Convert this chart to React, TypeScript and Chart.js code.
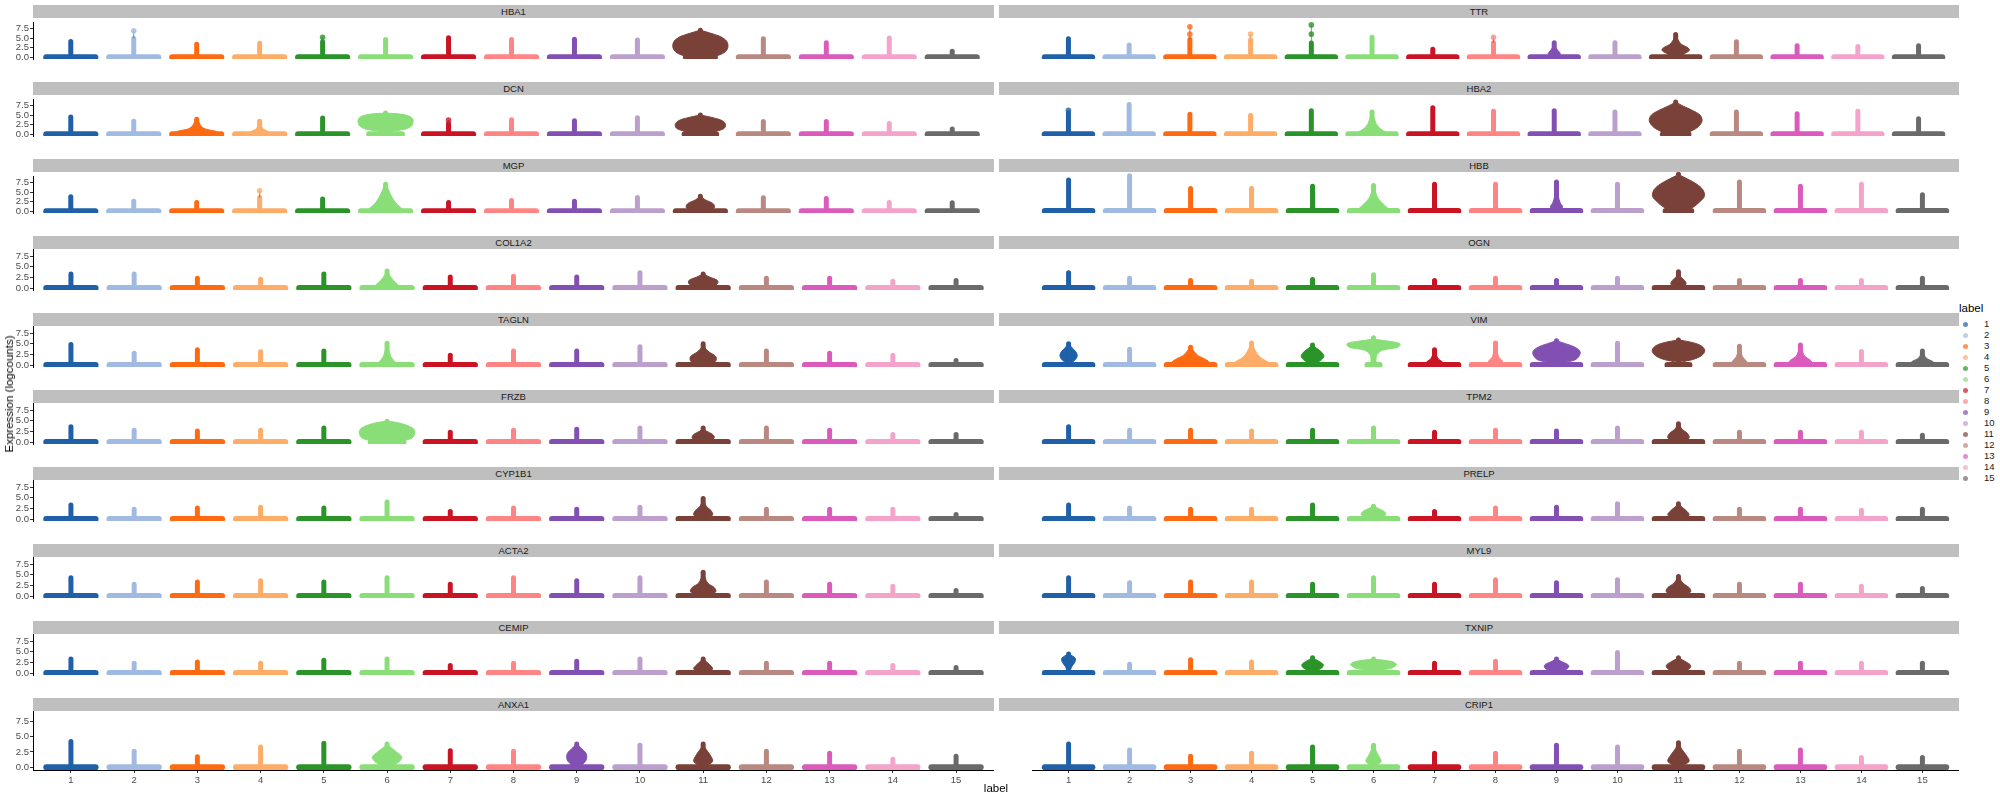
import React, { useEffect, useRef } from 'react';
import { Chart, registerables } from 'chart.js';

Chart.register(...registerables);

// ---------- data ----------
const clusters = ['1', '2', '3', '4', '5', '6', '7', '8', '9', '10', '11', '12', '13', '14', '15'];
const clusterPos = [1, 2, 3, 4, 5, 6, 7, 8, 9, 10, 11, 12, 13, 14, 15];
const palette = [
  '#1F60A8', '#A0BAE2', '#FD6A12', '#FDAD68', '#2A9429', '#8ADE78', '#CA1424', '#FF8585',
  '#8250B2', '#BBA0CD', '#7A4139', '#B98880', '#DA5BBB', '#F4A4CB', '#6A6A6A',
];
const yTicks = [0, 2.5, 5, 7.5];
const yMin = -0.44;
const yMax = 9.15;
const zeroWidth = 0.78;

// top of the dense part of each violin, clusters 1..15
const HBA1 = [4.1, 4.9, 3.4, 3.65, 4.0, 4.6, 5.1, 4.6, 4.7, 4.5, 7.0, 4.8, 3.8, 5.0, 1.6];
const TTR = [4.8, 3.2, 4.6, 4.0, 3.7, 5.2, 2.1, 3.8, 3.8, 3.8, 5.9, 4.0, 3.0, 2.8, 3.0];
const DCN = [4.5, 3.4, 3.9, 3.4, 4.25, 5.5, 2.8, 3.8, 3.5, 4.3, 5.0, 3.3, 3.3, 2.8, 1.4];
const HBA2 = [5.6, 7.7, 5.2, 4.9, 6.1, 5.8, 6.9, 6.0, 6.1, 5.8, 8.4, 5.8, 5.3, 6.0, 4.0];
const MGP = [3.8, 2.6, 2.3, 3.6, 3.2, 7.0, 2.3, 2.8, 2.6, 3.6, 3.9, 3.5, 3.3, 2.3, 2.2];
const HBB = [7.3, 8.3, 5.3, 5.3, 5.8, 6.0, 6.3, 6.3, 6.8, 6.3, 8.6, 6.8, 5.8, 6.3, 3.8];
const COL1A2 = [3.3, 3.3, 2.3, 2.1, 3.3, 4.0, 2.6, 2.8, 2.6, 3.6, 3.3, 2.3, 2.3, 1.6, 1.8];
const OGN = [3.6, 2.3, 1.8, 1.6, 2.0, 3.1, 1.8, 2.3, 1.8, 2.3, 3.8, 1.8, 1.8, 1.8, 2.3];
const TAGLN = [4.8, 2.8, 3.6, 3.1, 3.3, 5.1, 2.3, 3.3, 3.3, 4.3, 5.0, 3.3, 2.8, 2.3, 1.1];
const VIM = [5.0, 3.7, 4.2, 5.2, 4.7, 6.4, 3.6, 5.2, 5.7, 5.1, 5.9, 4.4, 4.7, 3.2, 3.3];
const FRZB = [3.6, 2.8, 2.6, 2.8, 3.3, 4.9, 2.3, 2.8, 3.0, 3.3, 3.3, 3.3, 2.8, 1.8, 1.8];
const TPM2 = [3.6, 2.8, 2.8, 2.6, 2.8, 3.3, 2.3, 2.8, 2.6, 3.3, 4.3, 2.3, 2.3, 2.3, 1.6];
const CYP1B1 = [3.3, 2.3, 2.6, 2.8, 2.6, 4.0, 1.8, 2.6, 2.3, 2.8, 4.8, 2.3, 2.3, 2.3, 1.1];
const PRELP = [3.3, 2.6, 2.3, 2.3, 3.3, 3.0, 1.8, 2.6, 2.8, 3.6, 3.6, 2.3, 2.3, 2.1, 2.3];
const ACTA2 = [4.3, 2.8, 3.3, 3.6, 3.3, 4.3, 2.8, 4.3, 3.6, 4.3, 5.6, 3.3, 2.8, 2.3, 1.3];
const MYL9 = [4.3, 3.1, 3.3, 3.3, 2.8, 4.3, 2.8, 3.8, 3.1, 3.8, 4.6, 2.8, 2.8, 2.3, 1.8];
const CEMIP = [3.3, 2.3, 2.6, 2.3, 3.0, 3.3, 1.8, 2.3, 2.8, 3.3, 3.3, 2.3, 2.3, 1.8, 1.3];
const TXNIP = [4.5, 2.1, 3.1, 2.6, 3.6, 3.3, 2.3, 2.8, 3.3, 4.8, 3.6, 2.3, 2.3, 2.3, 2.3];
const ANXA1 = [4.2, 2.6, 1.7, 3.3, 3.9, 3.8, 2.7, 2.6, 3.8, 3.6, 3.8, 2.6, 2.3, 1.3, 1.8];
const CRIP1 = [3.8, 2.8, 1.8, 2.3, 3.3, 3.6, 2.3, 2.3, 3.6, 3.3, 4.0, 2.6, 2.8, 1.6, 1.6];

// isolated high cells above the violins: [cluster, expression]
type Dot = [number, number];
const HBA1_dots: Dot[] = [[2, 6.9], [5, 5.2]];
const TTR_dots: Dot[] = [[3, 6.0], [3, 7.9], [4, 4.5], [4, 6.0], [5, 6.0], [5, 8.4], [8, 5.2]];
const DCN_dots: Dot[] = [[7, 3.7]];
const HBA2_dots: Dot[] = [[1, 6.2]];
const MGP_dots: Dot[] = [[4, 5.3]];

// violin bodies: [cluster, zero-bar width or null, [[expression, violin width], ...]]
type Body = [number, number | null, number[][]];
const HBA1_body: Body[] = [
  [11, 0.46, [[0.1, 0.3], [0.6, 0.6], [1.5, 0.8], [2.5, 0.87], [3.5, 0.87], [4.5, 0.8], [5.5, 0.6], [6.3, 0.3], [6.8, 0.1], [7.0, 0]]],
];
const TTR_body: Body[] = [
  [9, null, [[0.3, 0.15], [1, 0.2], [1.5, 0.15], [2.5, 0.06], [3.8, 0]]],
  [11, null, [[0.3, 0.15], [1, 0.3], [1.8, 0.45], [2.5, 0.4], [3.3, 0.2], [4.5, 0.08], [5.9, 0]]],
];
const DCN_body: Body[] = [
  [3, null, [[0, 0.75], [0.8, 0.6], [1.3, 0.3], [2, 0.15], [3, 0.08], [3.9, 0]]],
  [4, null, [[0, 0.35], [0.8, 0.25], [1.5, 0.1], [3.4, 0]]],
  [6, 0.52, [[0.5, 0.05], [0.9, 0.3], [1.4, 0.65], [2.2, 0.83], [3, 0.87], [4, 0.86], [4.8, 0.72], [5.3, 0.4], [5.5, 0]]],
  [11, 0.5, [[0.2, 0.2], [0.8, 0.5], [1.5, 0.75], [2.5, 0.8], [3.5, 0.7], [4.3, 0.4], [5, 0]]],
];
const HBA2_body: Body[] = [
  [6, null, [[0, 0.6], [0.6, 0.45], [1.3, 0.3], [2, 0.2], [3, 0.12], [4.5, 0.06], [5.8, 0]]],
  [11, 0.42, [[0.2, 0.3], [1, 0.55], [2, 0.75], [3.5, 0.87], [5, 0.8], [6.2, 0.55], [7.3, 0.25], [8, 0.08], [8.4, 0]]],
];
const MGP_body: Body[] = [
  [6, null, [[0, 0.55], [0.5, 0.55], [1.5, 0.4], [3, 0.25], [4.5, 0.15], [6, 0.07], [7, 0]]],
  [11, null, [[0.2, 0.3], [1, 0.45], [2, 0.4], [3, 0.15], [3.9, 0]]],
];
const HBB_body: Body[] = [
  [6, null, [[0, 0.6], [0.8, 0.45], [1.8, 0.3], [3, 0.15], [4.5, 0.06], [6, 0]]],
  [9, null, [[0.2, 0.15], [1, 0.2], [2, 0.12], [3.5, 0.06], [6.8, 0]]],
  [11, 0.42, [[0.2, 0.3], [1, 0.5], [2.2, 0.7], [3.5, 0.85], [5, 0.8], [6.3, 0.6], [7.5, 0.3], [8.2, 0.1], [8.6, 0]]],
];
const COL1A2_body: Body[] = [
  [6, null, [[0, 0.45], [0.8, 0.35], [1.8, 0.2], [3, 0.08], [4, 0]]],
  [11, null, [[0.2, 0.25], [1, 0.45], [1.8, 0.45], [2.6, 0.2], [3.3, 0]]],
];
const OGN_body: Body[] = [
  [11, null, [[0.2, 0.15], [1, 0.25], [1.8, 0.2], [2.8, 0.06], [3.8, 0]]],
];
const TAGLN_body: Body[] = [
  [6, null, [[0, 0.35], [0.8, 0.25], [2, 0.12], [5.1, 0]]],
  [11, null, [[0.2, 0.25], [1, 0.4], [2, 0.4], [3, 0.2], [4, 0.06], [5, 0]]],
];
const VIM_body: Body[] = [
  [1, null, [[0.4, 0.05], [1, 0.18], [2, 0.28], [3, 0.25], [4, 0.12], [5, 0]]],
  [3, null, [[0, 0.6], [0.8, 0.6], [1.5, 0.45], [2.2, 0.25], [3.2, 0.12], [4.2, 0]]],
  [4, null, [[0, 0.6], [0.7, 0.55], [1.5, 0.35], [2.5, 0.2], [4, 0.08], [5.2, 0]]],
  [5, null, [[0.4, 0.05], [1, 0.25], [2, 0.37], [3, 0.3], [4, 0.12], [4.7, 0]]],
  [6, 0.2, [[0.3, 0.1], [1, 0.08], [2.5, 0.12], [3.5, 0.3], [4.2, 0.8], [5, 0.87], [5.6, 0.5], [6, 0.1], [6.4, 0]]],
  [7, null, [[0, 0.3], [0.8, 0.25], [1.5, 0.12], [3.6, 0]]],
  [8, null, [[0, 0.25], [1, 0.22], [2, 0.1], [5.2, 0]]],
  [9, null, [[0.6, 0.2], [1.2, 0.6], [2.2, 0.75], [3.2, 0.77], [4.2, 0.6], [5, 0.3], [5.7, 0]]],
  [11, 0.36, [[0.8, 0.15], [1.5, 0.55], [2.5, 0.8], [3.5, 0.86], [4.5, 0.75], [5.3, 0.45], [5.9, 0]]],
  [12, null, [[0, 0.3], [1, 0.22], [2, 0.1], [4.4, 0]]],
  [13, null, [[0, 0.4], [1, 0.35], [2, 0.15], [3, 0.08], [4.7, 0]]],
  [15, null, [[0, 0.4], [0.8, 0.35], [1.5, 0.15], [2.5, 0.05], [3.3, 0]]],
];
const FRZB_body: Body[] = [
  [6, 0.52, [[0.2, 0.3], [0.8, 0.75], [1.8, 0.87], [3, 0.85], [4, 0.6], [4.6, 0.3], [4.9, 0]]],
  [11, null, [[0.2, 0.2], [1, 0.35], [1.8, 0.3], [2.6, 0.1], [3.3, 0]]],
];
const TPM2_body: Body[] = [
  [11, null, [[0.2, 0.2], [1, 0.35], [2, 0.3], [3, 0.12], [4.3, 0]]],
];
const CYP1B1_body: Body[] = [
  [11, null, [[0.2, 0.15], [1, 0.3], [2, 0.25], [3, 0.1], [4.8, 0]]],
];
const PRELP_body: Body[] = [
  [6, null, [[0.2, 0.2], [1, 0.4], [1.8, 0.35], [2.5, 0.15], [3, 0]]],
  [11, null, [[0.2, 0.2], [1, 0.35], [2, 0.25], [3, 0.08], [3.6, 0]]],
];
const ACTA2_body: Body[] = [
  [11, null, [[0.2, 0.2], [1, 0.4], [2, 0.35], [3, 0.15], [4.5, 0.05], [5.6, 0]]],
];
const MYL9_body: Body[] = [
  [11, null, [[0.2, 0.2], [1, 0.4], [2, 0.35], [3, 0.15], [4.6, 0]]],
];
const CEMIP_body: Body[] = [
  [11, null, [[0.2, 0.15], [1, 0.3], [2, 0.2], [3.3, 0]]],
];
const TXNIP_body: Body[] = [
  [1, null, [[0.5, 0.05], [1.5, 0.1], [2.5, 0.2], [3.5, 0.22], [4.5, 0]]],
  [5, null, [[0.5, 0.1], [1.2, 0.3], [2, 0.35], [2.8, 0.2], [3.6, 0]]],
  [6, null, [[0.6, 0.1], [1.2, 0.6], [2, 0.75], [2.7, 0.6], [3.3, 0]]],
  [9, null, [[0.3, 0.1], [1, 0.35], [1.8, 0.4], [2.6, 0.2], [3.3, 0]]],
  [11, null, [[0.3, 0.15], [1, 0.35], [1.8, 0.4], [2.6, 0.25], [3.6, 0]]],
];
const ANXA1_body: Body[] = [
  [6, null, [[0.3, 0.2], [1, 0.4], [1.7, 0.46], [2.5, 0.3], [3.3, 0.1], [3.8, 0]]],
  [9, null, [[0.3, 0.15], [1.2, 0.3], [2.2, 0.3], [3.2, 0.12], [3.8, 0]]],
  [11, null, [[0.3, 0.15], [1, 0.3], [2, 0.22], [3, 0.08], [3.8, 0]]],
];
const CRIP1_body: Body[] = [
  [6, null, [[0.3, 0.1], [1, 0.25], [2, 0.15], [3.6, 0]]],
  [11, null, [[0.3, 0.15], [1, 0.35], [2, 0.25], [3, 0.1], [4, 0]]],
];

const genes = ['HBA1', 'TTR', 'DCN', 'HBA2', 'MGP', 'HBB', 'COL1A2', 'OGN', 'TAGLN', 'VIM',
  'FRZB', 'TPM2', 'CYP1B1', 'PRELP', 'ACTA2', 'MYL9', 'CEMIP', 'TXNIP', 'ANXA1', 'CRIP1'];
const maxima = [HBA1, TTR, DCN, HBA2, MGP, HBB, COL1A2, OGN, TAGLN, VIM,
  FRZB, TPM2, CYP1B1, PRELP, ACTA2, MYL9, CEMIP, TXNIP, ANXA1, CRIP1];
const bodies = [HBA1_body, TTR_body, DCN_body, HBA2_body, MGP_body, HBB_body, COL1A2_body, OGN_body,
  TAGLN_body, VIM_body, FRZB_body, TPM2_body, CYP1B1_body, PRELP_body, ACTA2_body, MYL9_body,
  CEMIP_body, TXNIP_body, ANXA1_body, CRIP1_body];
const dotsByGene: Dot[][] = [HBA1_dots, TTR_dots, DCN_dots, HBA2_dots, MGP_dots, [], [], [], [], [],
  [], [], [], [], [], [], [], [], [], []];

// ---------- layout ----------
const FONT = '"Liberation Sans", Arial, Helvetica, sans-serif';
const PANEL_H = 59;
const STRIP_H = 13;
const ROW_STEP = 77.05;
const FIRST_TOP = 18;
const Y_AXIS_W = 33;
const COL_LEFT = [33, 999];
const COL_W = [961, 960];
const X_AXIS_H = 18;

function panelTop(row: number) {
  return Math.round(FIRST_TOP + row * ROW_STEP);
}

function withAlpha(hex: string, a: number) {
  const n = parseInt(hex.slice(1), 16);
  return `rgba(${(n >> 16) & 255},${(n >> 8) & 255},${n & 255},${a})`;
}

function Panel({ index }: { index: number }) {
  const ref = useRef<HTMLCanvasElement>(null);
  const row = Math.floor(index / 2);
  const col = index % 2;
  const isLeft = col === 0;
  const isBottom = row === 9;
  const width = COL_W[col] + (isLeft ? Y_AXIS_W : 0);
  const height = PANEL_H + (isBottom ? X_AXIS_H : 0);
  const left = COL_LEFT[col] - (isLeft ? Y_AXIS_W : 0);
  const top = panelTop(row);

  useEffect(() => {
    const max = maxima[index];
    const body = bodies[index];
    const dots = dotsByGene[index];
    const datasets: any[] = [];
    clusterPos.forEach((c, k) => {
      const color = palette[k];
      const b = body.find((e) => e[0] === c);
      const zw = b && b[1] != null ? (b[1] as number) : zeroWidth;
      // thin violin tail up to isolated high cells
      const myDots = dots.filter((d) => d[0] === c).map((d) => d[1]);
      if (myDots.length) {
        const pts = [{ x: c, y: max[k] }, ...myDots.map((v) => ({ x: c, y: v }))];
        datasets.push({
          data: pts, borderColor: '#6E6E6E', borderWidth: 0.8, fill: false, tension: 0,
          pointRadius: pts.map((_p, i) => (i === 0 ? 0 : 2.8)),
          pointBackgroundColor: withAlpha(color, 0.8), pointBorderWidth: 0,
        });
      }
      datasets.push({
        data: [{ x: c - zw / 2, y: 0 }, { x: c + zw / 2, y: 0 }],
        borderColor: color, borderWidth: 6, borderCapStyle: 'round',
        pointRadius: 0, fill: false, tension: 0,
      });
      datasets.push({
        data: [{ x: c, y: 0 }, { x: c, y: max[k] }],
        borderColor: color, borderWidth: 5, borderCapStyle: 'round',
        pointRadius: 0, fill: false, tension: 0,
      });
      if (b) {
        const prof = b[2];
        const pts = [
          ...prof.map(([y, w]) => ({ x: c + w / 2, y })),
          ...prof.slice().reverse().map(([y, w]) => ({ x: c - w / 2, y })),
        ];
        datasets.push({
          data: pts, borderColor: color, backgroundColor: color, borderWidth: 1,
          fill: 'shape', tension: 0.35, pointRadius: 0,
        });
      }
    });

    const tickGrid = {
      display: true, drawOnChartArea: false, drawTicks: true, tickLength: 3,
      color: '#333333', tickColor: '#333333', tickWidth: 1,
    };
    const chart = new Chart(ref.current as HTMLCanvasElement, {
      type: 'line',
      data: { datasets },
      options: {
        animation: false,
        responsive: false,
        devicePixelRatio: 1,
        events: [],
        layout: { padding: 0 },
        plugins: { legend: { display: false }, tooltip: { enabled: false }, title: { display: false } },
        scales: {
          x: {
            type: 'linear', min: 0.4, max: 15.6, display: isBottom,
            afterBuildTicks: (s: any) => { s.ticks = clusterPos.map((v) => ({ value: v })); },
            afterFit: (s: any) => { s.height = X_AXIS_H; s.paddingLeft = 0; s.paddingRight = 0; },
            ticks: {
              autoSkip: false, maxRotation: 0, padding: 2, color: '#4D4D4D',
              font: { family: FONT, size: 9.5 },
              callback: (_v: any, i: number) => clusters[i],
            },
            grid: tickGrid,
            border: { display: true, color: '#000000', width: 1 },
          },
          y: {
            type: 'linear', min: yMin, max: yMax, display: isLeft,
            afterBuildTicks: (s: any) => { s.ticks = yTicks.map((v) => ({ value: v })); },
            afterFit: (s: any) => { s.width = Y_AXIS_W; s.paddingTop = 0; s.paddingBottom = 0; },
            ticks: {
              autoSkip: false, padding: 1, color: '#4D4D4D',
              font: { family: FONT, size: 9.5 },
              callback: (v: any) => Number(v).toFixed(1),
            },
            grid: tickGrid,
            border: { display: true, color: '#000000', width: 1 },
          },
        },
      } as any,
    });
    return () => chart.destroy();
  }, [index]);

  return (
    <>
      <div
        style={{
          position: 'absolute', left: COL_LEFT[col], top: top - STRIP_H, width: COL_W[col], height: STRIP_H,
          background: '#BFBFBF', color: '#1A1A1A', fontSize: 9.5, lineHeight: `${STRIP_H}px`, textAlign: 'center',
        }}
      >
        {genes[index]}
      </div>
      <canvas
        ref={ref}
        width={width}
        height={height}
        style={{ position: 'absolute', left, top, width, height }}
      />
    </>
  );
}

export default function App() {
  return (
    <div
      style={{
        position: 'absolute', left: 0, top: 0, width: 2000, height: 800, background: '#FFFFFF',
        fontFamily: FONT, overflow: 'hidden',
      }}
    >
      {genes.map((g, i) => <Panel key={g} index={i} />)}
      <div
        style={{
          position: 'absolute', left: 9, top: 394, transform: 'translate(-50%, -50%) rotate(-90deg)',
          fontSize: 11.5, whiteSpace: 'nowrap', color: '#000',
        }}
      >
        Expression (logcounts)
      </div>
      <div
        style={{
          position: 'absolute', left: 996, top: 788, transform: 'translate(-50%, -50%)',
          fontSize: 11.5, whiteSpace: 'nowrap', color: '#000',
        }}
      >
        label
      </div>
      <div style={{ position: 'absolute', left: 1959, top: 302, fontSize: 11.5, lineHeight: '13px', color: '#000' }}>
        label
      </div>
      {clusters.map((c, k) => (
        <React.Fragment key={c}>
          <div
            style={{
              position: 'absolute', left: 1962.5, top: 324.3 + k * 11 - 2.5, width: 5, height: 5,
              borderRadius: '50%', background: palette[k], opacity: 0.7,
            }}
          />
          <div
            style={{
              position: 'absolute', left: 1984, top: 324.3 + k * 11 - 6, fontSize: 9.5, lineHeight: '12px',
              color: '#1A1A1A',
            }}
          >
            {c}
          </div>
        </React.Fragment>
      ))}
    </div>
  );
}
